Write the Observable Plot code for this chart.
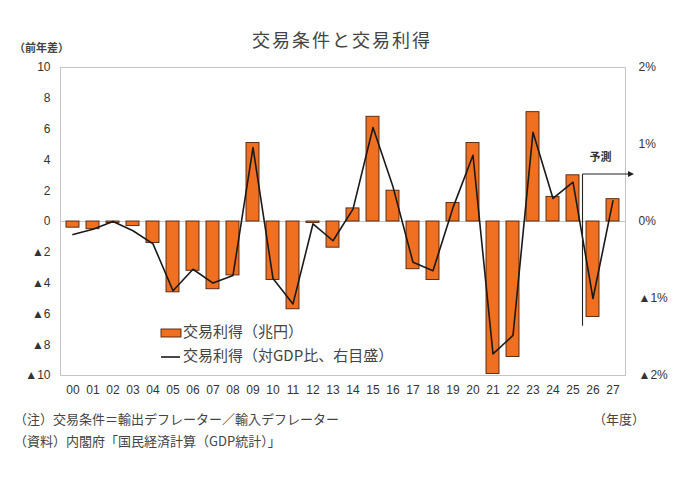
<!DOCTYPE html>
<html><head><meta charset="utf-8">
<script src="https://cdn.jsdelivr.net/npm/d3@7"></script>
<script src="https://cdn.jsdelivr.net/npm/@observablehq/plot@0.6"></script>
<style>
body{margin:0;background:#fff;}
#chart svg{display:block;}
</style>
</head><body><div id="chart"></div>
<script>
// ---- data ----
const years = ["00","01","02","03","04","05","06","07","08","09","10","11","12","13","14","15","16","17","18","19","20","21","22","23","24","25","26","27"];
// 交易利得（兆円）
const gain = [-0.4,-0.5,-0.1,-0.3,-1.4,-4.6,-3.2,-4.4,-3.5,5.1,-3.8,-5.7,-0.1,-1.7,0.85,6.8,2.0,-3.1,-3.8,1.2,5.1,-9.9,-8.8,7.1,1.6,3.0,-6.2,1.45];
// 交易利得（対GDP比, %）
const gainPct = [-0.17,-0.1,0.0,-0.12,-0.29,-0.9,-0.62,-0.8,-0.7,0.96,-0.74,-1.07,-0.03,-0.25,0.16,1.22,0.45,-0.53,-0.64,0.18,0.86,-1.72,-1.48,1.16,0.3,0.51,-1.0,0.27];
const leftTicks = [10,8,6,4,2,0,-2,-4,-6,-8,-10];
const rightTicks = [2,1,0,-1,-2];
const forecastStart = "26";
const forecastLabel = "予測";
const titleText = "交易条件と交易利得";
const unitLeft = "（前年差）";
const unitX = "（年度）";
const notes = ["（注）交易条件＝輸出デフレーター／輸入デフレーター","（資料）内閣府「国民経済計算（GDP統計）」"];
const legendLabels = ["交易利得（兆円）","交易利得（対GDP比、右目盛）"];

const data = years.map((y,i)=>({year:y, gain:gain[i], pct:gainPct[i]}));
const ratio = 10/2; // left axis units per right axis %

const fmtLeft = d => d < 0 ? "▲" + (-d) : String(d);
const fmtRight = d => { const v = Math.round(d/ratio); return v < 0 ? "▲" + (-v) + "%" : v + "%"; };

const orange = "#f07022";
const font = "'Liberation Sans','Noto Sans CJK JP',sans-serif";
const cjk = "'Noto Sans CJK JP',sans-serif";

const plot = Plot.plot({
  width: 680, height: 480,
  marginLeft: 60, marginRight: 55, marginTop: 67, marginBottom: 105,
  style: {fontSize: "12px", fontFamily: font, color: "#333", background: "#fff"},
  x: {type: "band", domain: years, paddingInner: 0.35, paddingOuter: 0.175, label: null},
  y: {domain: [-10, 10], label: null},
  marks: [
    Plot.frame({stroke: "#c4c4c4"}),
    Plot.ruleY([0], {stroke: "#c4c4c4"}),
    Plot.barY(data, {x: "year", y: "gain", fill: orange, stroke: "#4a2410", strokeWidth: 0.9}),
    Plot.line(data, {x: "year", y: d => d.pct * ratio, stroke: "#1a1a1a", strokeWidth: 1.6}),
    Plot.axisY({ticks: leftTicks, tickSize: 0, tickPadding: 10, tickFormat: fmtLeft, label: null, fontSize: 12}),
    Plot.axisY({anchor: "right", ticks: rightTicks.map(d => d * ratio), tickSize: 0, tickPadding: 13, tickFormat: fmtRight, textAnchor: "start", label: null, fontSize: 12}),
    Plot.axisX({tickSize: 0, tickPadding: 10, label: null, fontSize: 12})
  ]
});
document.getElementById("chart").appendChild(plot);

const svg = d3.select(plot);
const sx = plot.scale("x"), sy = plot.scale("y");
const step = sx.step ?? (sx.range[1]-sx.range[0]) / years.length;
const xf = sx.apply(forecastStart) - step * 0.35 / 2;
const yArrow = sy.apply(3.05);
const yBottom = sy.apply(-6.8);
const xEnd = sx.range[1] + 9;

const txt = (x, y, s, size, anchor, extra = {}) => {
  const t = svg.append("text").attr("x", x).attr("y", y).attr("text-anchor", anchor)
    .attr("dominant-baseline", "middle").attr("font-family", cjk).attr("font-size", size)
    .attr("fill", "#444").text(s);
  for (const k in extra) t.attr(k, extra[k]);
  return t;
};

// forecast marker
svg.append("line").attr("x1", xf).attr("x2", xf).attr("y1", yArrow).attr("y2", yBottom)
  .attr("stroke", "#222").attr("stroke-width", 1.1);
svg.append("line").attr("x1", xf).attr("x2", xEnd - 5).attr("y1", yArrow).attr("y2", yArrow)
  .attr("stroke", "#222").attr("stroke-width", 1.1);
svg.append("path").attr("d", `M${xEnd},${yArrow} L${xEnd-6},${yArrow-3} L${xEnd-6},${yArrow+3} Z`).attr("fill", "#222");
txt(xf + 18, yArrow - 16, forecastLabel, 11, "middle", {"font-weight": "bold", fill: "#333"});

// title and labels
txt(342, 42, titleText, 18, "middle", {"letter-spacing": 2});
txt(14, 49, unitLeft, 11, "start", {"font-weight": "bold"});
txt(645, 420, unitX, 13, "end");
notes.forEach((t, i) => txt(14, 420 + i * 22, t, 13, "start"));

// legend
svg.append("rect").attr("x", 161).attr("y", 329).attr("width", 20).attr("height", 8)
  .attr("fill", orange).attr("stroke", "#4a2410").attr("stroke-width", 0.9);
txt(183, 333, legendLabels[0], 15, "start");
svg.append("line").attr("x1", 161).attr("x2", 180).attr("y1", 357).attr("y2", 357)
  .attr("stroke", "#1a1a1a").attr("stroke-width", 1.6);
txt(183, 357, legendLabels[1], 15, "start");
</script>
</body></html>
